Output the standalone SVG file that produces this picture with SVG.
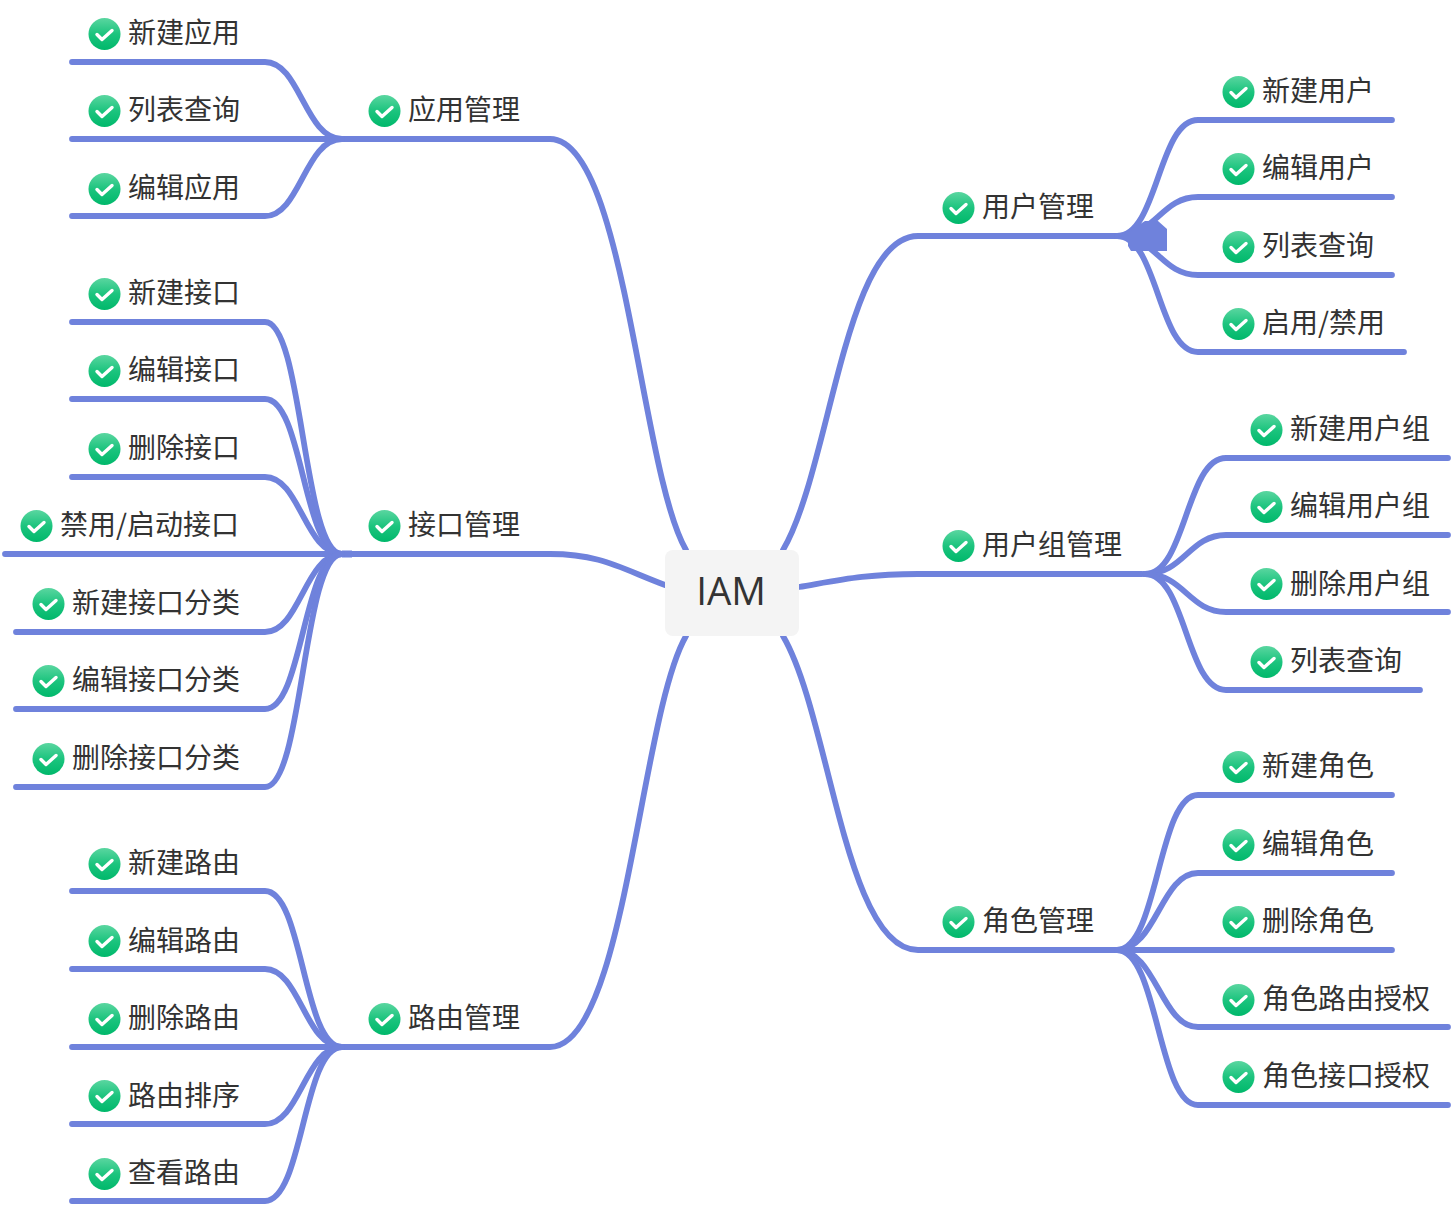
<svg xmlns="http://www.w3.org/2000/svg" width="1452" height="1206" viewBox="0 0 1452 1206">
<style>
text{font-family:"Noto Sans CJK SC","Noto Sans",sans-serif;fill:#333;font-size:28px}
.c path{fill:none;stroke:#6f82dc;stroke-width:5.8;stroke-linecap:round}
</style>
<defs>
<linearGradient id="g" x1="0" y1="0" x2="0" y2="1"><stop offset="0" stop-color="#5ad6a0"/><stop offset="0.5" stop-color="#1cc47e"/><stop offset="1" stop-color="#00b86b"/></linearGradient>
<g id="i" transform="translate(0.5 0)"><circle r="16" fill="url(#g)"/><path d="M-7.5,0.5L-2.5,5.5L7.5,-3.5" fill="none" stroke="#fff" stroke-width="3.4" stroke-linecap="round" stroke-linejoin="round"/></g>
</defs>
<rect width="1452" height="1206" fill="#fff"/>
<g id="connectors" class="c">
<path d="M686,550C640,470 625,139 550,139H342"/>
<path d="M665,585C620,568 600,554 550,554H342"/>
<path d="M686,636C640,716 625,1047 550,1047H342"/>
<path d="M783,550C830,470 845,236 918,236H1117"/>
<path d="M799,587C840,580 865,574 918,574H1142"/>
<path d="M783,636C830,716 845,950 918,950H1117"/>
<path d="M342,554H352" style="stroke-width:7;stroke-linecap:butt"/>
<path d="M342,139C305,139 300,62 265,62H72"/>
<path d="M342,139H72"/>
<path d="M342,139C305,139 300,216 265,216H72"/>
<path d="M342,554C303,554 303,322 265,322H72"/>
<path d="M342,554C303,554 303,399 265,399H72"/>
<path d="M342,554C305,554 300,477 265,477H72"/>
<path d="M342,554H5"/>
<path d="M342,554C305,554 300,632 265,632H16"/>
<path d="M342,554C303,554 303,709 265,709H16"/>
<path d="M342,554C303,554 303,787 265,787H16"/>
<path d="M342,1047C303,1047 303,891 265,891H72"/>
<path d="M342,1047C305,1047 300,969 265,969H72"/>
<path d="M342,1047H72"/>
<path d="M342,1047C305,1047 300,1124 265,1124H72"/>
<path d="M342,1047C303,1047 303,1201 265,1201H72"/>
<path d="M1117,236C1158,236 1158,120 1198,120H1392"/>
<path d="M1117,236C1156,236 1161,197 1198,197H1392"/>
<path d="M1117,236C1156,236 1161,275 1198,275H1392"/>
<path d="M1117,236C1158,236 1158,352 1198,352H1404"/>
<path d="M1145,574C1186,574 1186,458 1226,458H1448"/>
<path d="M1145,574C1184,574 1189,535 1226,535H1448"/>
<path d="M1145,574C1184,574 1189,612 1226,612H1448"/>
<path d="M1145,574C1186,574 1186,690 1226,690H1420"/>
<path d="M1117,950C1158,950 1158,795 1198,795H1392"/>
<path d="M1117,950C1156,950 1161,873 1198,873H1392"/>
<path d="M1117,950H1392"/>
<path d="M1117,950C1156,950 1161,1027 1198,1027H1448"/>
<path d="M1117,950C1158,950 1158,1105 1198,1105H1448"/>
<path d="M1128,236L1132,229L1145,221H1158L1167,229V251H1131L1128,246Z" style="stroke:none;fill:#6f82dc"/>
</g>
<g id="root"><rect x="665" y="550" width="134" height="86" rx="8" fill="#f4f4f4"/><text x="731" y="605" text-anchor="middle" style="font-size:38.5px;font-family:'Open Sans',sans-serif">IAM</text></g>
<g id="n1"><use href="#i" x="384" y="111"/><text x="408" y="120">应用管理</text></g>
<g id="n1a"><use href="#i" x="104" y="34"/><text x="128" y="43">新建应用</text></g>
<g id="n1b"><use href="#i" x="104" y="111"/><text x="128" y="120">列表查询</text></g>
<g id="n1c"><use href="#i" x="104" y="189"/><text x="128" y="198">编辑应用</text></g>
<g id="n2"><use href="#i" x="384" y="526"/><text x="408" y="535">接口管理</text></g>
<g id="n2a"><use href="#i" x="104" y="294"/><text x="128" y="303">新建接口</text></g>
<g id="n2b"><use href="#i" x="104" y="371"/><text x="128" y="380">编辑接口</text></g>
<g id="n2c"><use href="#i" x="104" y="449"/><text x="128" y="458">删除接口</text></g>
<g id="n2d"><use href="#i" x="36" y="526"/><text x="60" y="535">禁用/启动接口</text></g>
<g id="n2e"><use href="#i" x="48" y="604"/><text x="72" y="613">新建接口分类</text></g>
<g id="n2f"><use href="#i" x="48" y="681"/><text x="72" y="690">编辑接口分类</text></g>
<g id="n2g"><use href="#i" x="48" y="759"/><text x="72" y="768">删除接口分类</text></g>
<g id="n3"><use href="#i" x="384" y="1019"/><text x="408" y="1028">路由管理</text></g>
<g id="n3a"><use href="#i" x="104" y="864"/><text x="128" y="873">新建路由</text></g>
<g id="n3b"><use href="#i" x="104" y="941"/><text x="128" y="951">编辑路由</text></g>
<g id="n3c"><use href="#i" x="104" y="1019"/><text x="128" y="1028">删除路由</text></g>
<g id="n3d"><use href="#i" x="104" y="1096"/><text x="128" y="1106">路由排序</text></g>
<g id="n3e"><use href="#i" x="104" y="1174"/><text x="128" y="1183">查看路由</text></g>
<g id="n4"><use href="#i" x="958" y="208"/><text x="982" y="217">用户管理</text></g>
<g id="n4a"><use href="#i" x="1238" y="92"/><text x="1262" y="101">新建用户</text></g>
<g id="n4b"><use href="#i" x="1238" y="169"/><text x="1262" y="178">编辑用户</text></g>
<g id="n4c"><use href="#i" x="1238" y="247"/><text x="1262" y="256">列表查询</text></g>
<g id="n4d"><use href="#i" x="1238" y="324"/><text x="1262" y="333">启用/禁用</text></g>
<g id="n5"><use href="#i" x="958" y="546"/><text x="982" y="555">用户组管理</text></g>
<g id="n5a"><use href="#i" x="1266" y="430"/><text x="1290" y="439">新建用户组</text></g>
<g id="n5b"><use href="#i" x="1266" y="507"/><text x="1290" y="516">编辑用户组</text></g>
<g id="n5c"><use href="#i" x="1266" y="584"/><text x="1290" y="594">删除用户组</text></g>
<g id="n5d"><use href="#i" x="1266" y="662"/><text x="1290" y="671">列表查询</text></g>
<g id="n6"><use href="#i" x="958" y="922"/><text x="982" y="931">角色管理</text></g>
<g id="n6a"><use href="#i" x="1238" y="767"/><text x="1262" y="776">新建角色</text></g>
<g id="n6b"><use href="#i" x="1238" y="845"/><text x="1262" y="854">编辑角色</text></g>
<g id="n6c"><use href="#i" x="1238" y="922"/><text x="1262" y="931">删除角色</text></g>
<g id="n6d"><use href="#i" x="1238" y="1000"/><text x="1262" y="1009">角色路由授权</text></g>
<g id="n6e"><use href="#i" x="1238" y="1077"/><text x="1262" y="1086">角色接口授权</text></g>
</svg>
